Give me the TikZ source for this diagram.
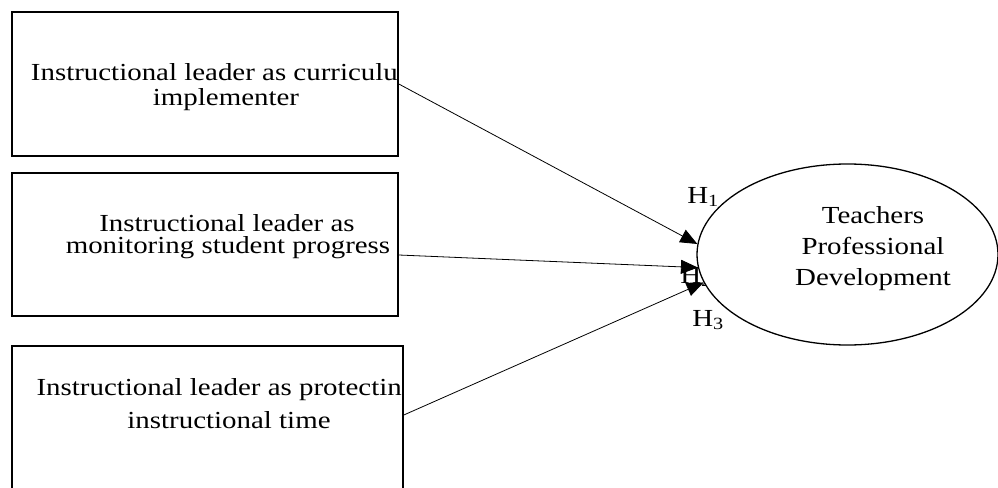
\documentclass[tikz,border=0pt]{standalone}
\usepackage{fontspec}
\setmainfont{Liberation Serif}[FakeStretch=1.18]
\usetikzlibrary{shapes.geometric,arrows.meta}
\begin{document}
\begin{tikzpicture}[x=1pt,y=-1pt,
  boxstyle/.style={draw,line width=1.6pt,rectangle,inner sep=0pt},
  txt/.style={font=\fontsize{24.5}{26}\selectfont,inner sep=0pt},
  conn/.style={line width=0.8pt,-{Triangle[length=17pt,width=14pt]}},
  hlab/.style={font=\fontsize{24.5}{26}\selectfont,inner sep=0pt}]
\useasboundingbox[fill=white] (0,0) rectangle (998,487);
% boxes
\node[boxstyle,minimum width=386pt,minimum height=144pt] (b1) at (205,84) {};
\node[boxstyle,minimum width=386pt,minimum height=143pt] (b2) at (205,244.5) {};
\node[boxstyle,minimum width=391pt,minimum height=154pt] (b3) at (207.5,423) {};
% box texts
\node[txt,anchor=east] (t1a) at (398,72) {Instructional leader as curriculu};
\node[txt] (t1b) at (226,100) {implementer};
\node[txt] (t2a) at (227,223) {Instructional leader as};
\node[txt] (t2b) at (228,248) {monitoring student progress};
\node[txt,anchor=east] (t3a) at (402,390) {Instructional leader as protectin};
\node[txt] (t3b) at (229,420) {instructional time};
% labels
\node[hlab] (h1) at (703,197) {H\textsubscript{1}};
\node[hlab] (h2) at (696,277) {H\textsubscript{2}};
\node[hlab] (h3) at (708,320) {H\textsubscript{3}};
% ellipse
\node[draw,fill=white,ellipse,line width=1.3pt,minimum width=301pt,minimum height=181pt,inner sep=0pt] (tp) at (847.5,254.5) {};
\node[txt,align=center,font=\fontsize{24.5}{31}\selectfont] (tpt) at (873,249) {Teachers\\Professional\\Development};
% connectors
\draw[conn] (b1.east) -- (tp.176);
\draw[conn] ([yshift=-10.5pt]b2.east) -- (tp.185);
\draw[conn] ([yshift=8pt]b3.east) -- (tp.191);
\end{tikzpicture}
\end{document}
